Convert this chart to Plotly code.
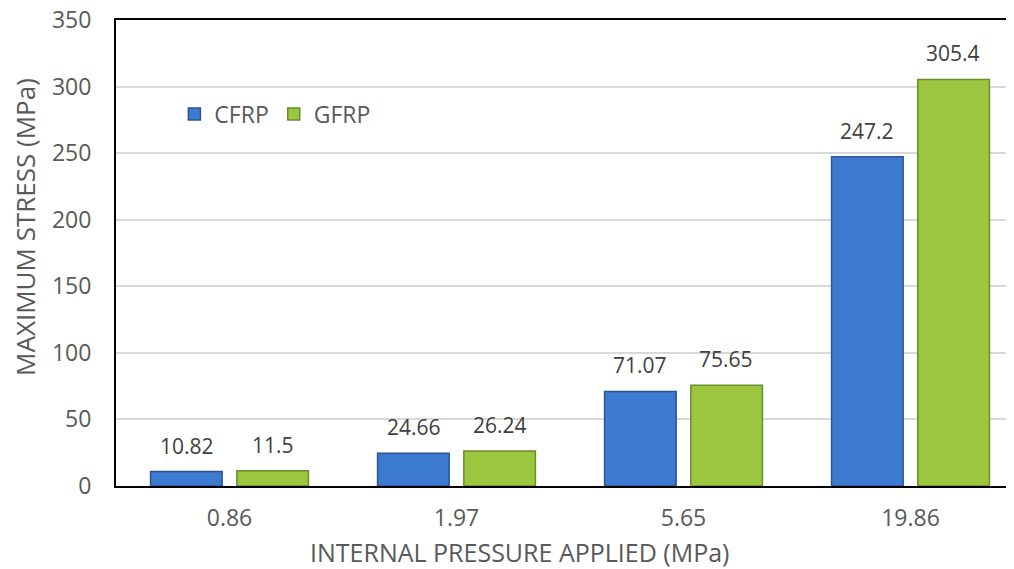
import plotly.graph_objects as go

categories = ["0.86", "1.97", "5.65", "19.86"]
cfrp = [10.82, 24.66, 71.07, 247.2]
gfrp = [11.5, 26.24, 75.65, 305.4]
cfrp_labels = ["10.82", "24.66", "71.07", "247.2"]
gfrp_labels = ["11.5", "26.24", "75.65", "305.4"]

FONT = "Open Sans"
GREY = "#595959"

fig = go.Figure()
fig.add_trace(go.Bar(
    name="CFRP", x=categories, y=cfrp,
    marker=dict(color="#3c7bcf", line=dict(color="#2a5590", width=1.5)),
))
fig.add_trace(go.Bar(
    name="GFRP", x=categories, y=gfrp,
    marker=dict(color="#9cc63f", line=dict(color="#6a8c2a", width=1.5)),
))

annotations = []
for i, (v, lab) in enumerate(zip(cfrp, cfrp_labels)):
    annotations.append(dict(x=i, y=v, text=lab, showarrow=False, xshift=-43,
                            yanchor="bottom", yshift=10,
                            font=dict(family=FONT, size=21, color="#404040")))
for i, (v, lab) in enumerate(zip(gfrp, gfrp_labels)):
    annotations.append(dict(x=i, y=v, text=lab, showarrow=False, xshift=43,
                            yanchor="bottom", yshift=10,
                            font=dict(family=FONT, size=21, color="#404040")))
annotations.append(dict(x=0.45, y=-0.1416, xref="paper", yref="paper",
                        text="INTERNAL PRESSURE APPLIED (MPa)", showarrow=False,
                        xanchor="center", yanchor="middle",
                        font=dict(family=FONT, size=25, color=GREY)))
annotations.append(dict(x=-0.1013, y=0.556, xref="paper", yref="paper",
                        text="MAXIMUM STRESS (MPa)", showarrow=False, textangle=-90,
                        xanchor="center", yanchor="middle",
                        font=dict(family=FONT, size=26, color=GREY)))

fig.update_layout(
    width=1006, height=561,
    margin=dict(l=108, r=0, t=12, b=83),
    paper_bgcolor="white", plot_bgcolor="white",
    barmode="group", bargap=0.24, bargroupgap=0.17,
    font=dict(family=FONT, color=GREY),
    showlegend=True,
    legend=dict(orientation="h", x=0.065, y=0.798, xanchor="left", yanchor="middle",
                font=dict(family=FONT, size=23, color=GREY),
                bgcolor="rgba(0,0,0,0)", itemwidth=30, traceorder="normal"),
    annotations=annotations,
    xaxis=dict(
        range=[-0.5, 3.456], showline=True, linecolor="black", linewidth=2,
        mirror=True, ticks="", showgrid=False, automargin=False,
        tickfont=dict(family=FONT, size=23, color=GREY),
        ticklabelstandoff=10,
    ),
    yaxis=dict(
        range=[0, 350], dtick=50, showline=True, linecolor="black", linewidth=2,
        showgrid=True, gridcolor="#d9d9d9", gridwidth=1.5, zeroline=False,
        automargin=False, ticklabeloverflow="allow",
        tickfont=dict(family=FONT, size=23, color=GREY),
        ticklabelstandoff=18,
    ),
)

fig.write_html("out.html")
